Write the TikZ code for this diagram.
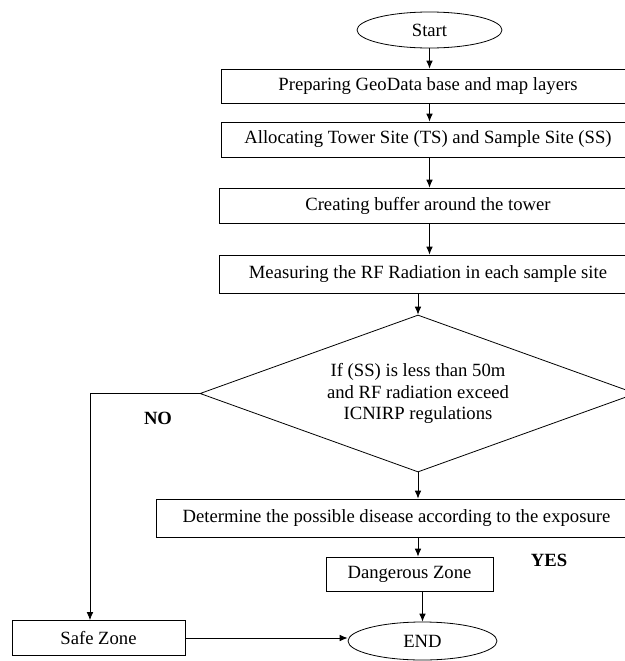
\documentclass[tikz,border=0pt]{standalone}
\usepackage{fontspec}
\setmainfont{Liberation Serif}
\usetikzlibrary{shapes.geometric,arrows.meta}

\begin{document}
\begin{tikzpicture}[x=0.75pt,y=-0.75pt,>={Latex[length=6pt,width=5pt]},
    every node/.style={font=\fontsize{14}{16}\selectfont},
    box/.style={draw,rectangle,inner sep=0pt,line width=0.6pt},
    oval/.style={draw,ellipse,inner sep=0pt,line width=0.6pt},
    arr/.style={->,line width=0.6pt}]
    % 画布大小
    \useasboundingbox (0,0) rectangle (625,661);
    \clip (0,0) rectangle (625,661);

    % 流程框
    \node[oval,minimum width=108.75pt,minimum height=27pt] (start) at (429.5,30) {Start};
    \node[box,minimum width=310.5pt,minimum height=25.5pt] (prep) at (428,86) {Preparing GeoData base and map layers};
    \node[box,minimum width=310.5pt,minimum height=26.25pt] (alloc) at (428,139.5) {Allocating Tower Site (TS) and Sample Site (SS)};
    \node[box,minimum width=313.5pt,minimum height=26.25pt] (buffer) at (428,205.5) {Creating buffer around the tower};
    \node[box,minimum width=313.5pt,minimum height=28.5pt] (measure) at (428,274) {Measuring the RF Radiation in each sample site};
    \node[draw,diamond,aspect=2.78,inner sep=0pt,line width=0.6pt,minimum width=327pt,minimum height=117.75pt,align=center] (decision) at (418,393.5)
        {If (SS) is less than 50m\\and RF radiation exceed\\ICNIRP regulations};
    \node[box,minimum width=360.75pt,minimum height=28.5pt] (determine) at (396.5,518) {Determine the possible disease according to the exposure};
    \node[box,minimum width=125.25pt,minimum height=25.5pt] (dang) at (409.5,574) {Dangerous Zone};
    \node[box,minimum width=129.75pt,minimum height=26.25pt] (safe) at (98.5,638) {Safe Zone};
    \node[oval,minimum width=111.75pt,minimum height=28.5pt] (end) at (422.5,641) {END};

    % 标签
    \node[font=\fontsize{14}{16}\selectfont\bfseries] (no) at (158,418) {NO};
    \node[font=\fontsize{14}{16}\selectfont\bfseries] (yes) at (549,560) {YES};

    % 箭头
    \draw[arr] (start) -- (start |- prep.north);
    \draw[arr] (start |- prep.south) -- (start |- alloc.north);
    \draw[arr] (start |- alloc.south) -- (start |- buffer.north);
    \draw[arr] (start |- buffer.south) -- (start |- measure.north);
    \draw[arr] (decision.north |- measure.south) -- (decision.north);
    \draw[arr] (decision.south) -- (decision.south |- determine.north);
    \draw[arr] (decision.south |- determine.south) -- (decision.south |- dang.north);
    \draw[arr] (end.north |- dang.south) -- (end.north);
    \draw[arr] (decision.west) -| ([xshift=-6.4pt]safe.north);
    \draw[arr] (safe.east) -- (safe.east -| end.west);

\end{tikzpicture}
\end{document}
